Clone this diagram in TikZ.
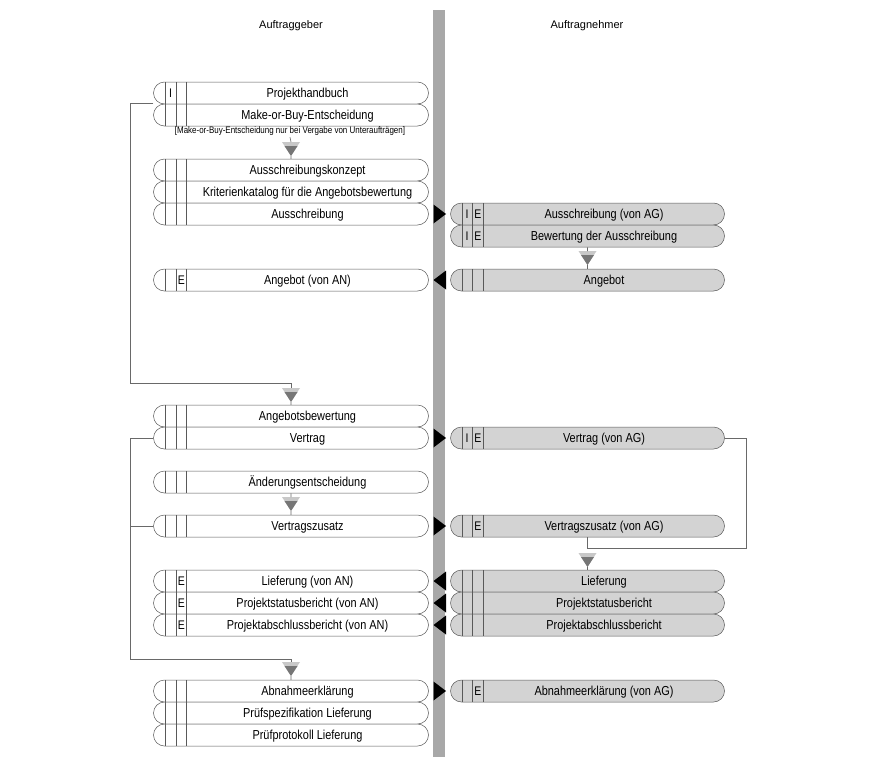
\documentclass[tikz,border=0pt]{standalone}
\usepackage{fontspec}
\setmainfont{Liberation Sans}
\newfontfamily\narrow{Liberation Sans}[FakeStretch=0.84]
\usetikzlibrary{arrows}

\definecolor{docgray}{RGB}{211,211,211}
\definecolor{bargray}{RGB}{168,168,168}
\definecolor{linegray}{RGB}{105,105,105}
\definecolor{funlight}{RGB}{200,200,200}
\definecolor{fundark}{RGB}{118,118,118}

% product: name, style, left end, y, tag I, tag E, text
\newcommand{\product}[7]{%
    \node[#2] (#1) at (#3+137.5,#4) {};
    \draw[divider] (#3+12,#4-11) -- ++(0,22) (#3+22.5,#4-11) -- ++(0,22) (#3+33,#4-11) -- ++(0,22);
    \node[tag] at (#3+17.2,#4+4.6) {#5};
    \node[tag] at (#3+27.8,#4+4.6) {#6};
    \node[doclabel] at (#3+154,#4+4.6) {#7};}

% funnel: name, x, top
\newcommand{\funnel}[3]{%
    \fill[funlight] (#2-9,#3) -- (#2+9,#3) -- (#2,#3+14) -- cycle;
    \fill[fundark] (#2-6.5,#3+4) -- (#2+6.5,#3+4) -- (#2,#3+14) -- cycle;
    \coordinate (#1-in) at (#2,#3);
    \coordinate (#1-out) at (#2,#3+14);}

\newcommand{\toAN}[1]{\fill (433.5,#1-9.5) -- (446,#1) -- (433.5,#1+9.5) -- cycle;}
\newcommand{\toAG}[1]{\fill (446,#1-9.5) -- (433.5,#1) -- (446,#1+9.5) -- cycle;}

\begin{document}
\begin{tikzpicture}[x=1pt,y=-1pt,
        agdoc/.style={draw=black!65, line width=0.5pt, fill=white, rounded corners=11pt,
                      minimum width=275pt, minimum height=22pt, inner sep=0pt},
        andoc/.style={agdoc, fill=docgray, minimum width=274pt},
        divider/.style={draw=black!65, line width=0.5pt},
        tag/.style={font=\narrow\fontsize{12.5}{13}\selectfont, inner sep=0pt, anchor=base},
        doclabel/.style={font=\narrow\fontsize{13}{14}\selectfont, inner sep=0pt, anchor=base},
        flow/.style={draw=linegray, line width=0.6pt}]
            \useasboundingbox (0,0) rectangle (878,768);

            \node[font=\fontsize{11}{13}\selectfont] (ag) at (291,26) {Auftraggeber};
            \node[font=\fontsize{11}{13}\selectfont] (an) at (587,26) {Auftragnehmer};

            \fill[bargray] (433,10) rectangle (445,757);

            % Auftraggeber
            \product{hb}{agdoc}{153.5}{93}{I}{}{Projekthandbuch}
            \product{mob}{agdoc}{153.5}{115}{}{}{Make-or-Buy-Entscheidung}
            \node[font=\narrow\fontsize{9.5}{10}\selectfont, inner sep=1pt] (note) at (290,131.5)
                {[Make-or-Buy-Entscheidung nur bei Vergabe von Unteraufträgen]};
            \product{konz}{agdoc}{153.5}{170}{}{}{Ausschreibungskonzept}
            \product{krit}{agdoc}{153.5}{192}{}{}{Kriterienkatalog für die Angebotsbewertung}
            \product{aus}{agdoc}{153.5}{214}{}{}{Ausschreibung}
            \product{ang}{agdoc}{153.5}{280}{}{E}{Angebot (von AN)}
            \product{bew}{agdoc}{153.5}{416}{}{}{Angebotsbewertung}
            \product{vtr}{agdoc}{153.5}{438}{}{}{Vertrag}
            \product{aend}{agdoc}{153.5}{482}{}{}{Änderungsentscheidung}
            \product{vzs}{agdoc}{153.5}{526}{}{}{Vertragszusatz}
            \product{lief}{agdoc}{153.5}{581}{}{E}{Lieferung (von AN)}
            \product{psb}{agdoc}{153.5}{603}{}{E}{Projektstatusbericht (von AN)}
            \product{pab}{agdoc}{153.5}{625}{}{E}{Projektabschlussbericht (von AN)}
            \product{abn}{agdoc}{153.5}{691}{}{}{Abnahmeerklärung}
            \product{pspez}{agdoc}{153.5}{713}{}{}{Prüfspezifikation Lieferung}
            \product{pprot}{agdoc}{153.5}{735}{}{}{Prüfprotokoll Lieferung}

            % Auftragnehmer
            \product{ausAG}{andoc}{450}{214}{I}{E}{Ausschreibung (von AG)}
            \product{bewAS}{andoc}{450}{236}{I}{E}{Bewertung der Ausschreibung}
            \product{angAN}{andoc}{450}{280}{}{}{Angebot}
            \product{vtrAG}{andoc}{450}{438}{I}{E}{Vertrag (von AG)}
            \product{vzsAG}{andoc}{450}{526}{}{E}{Vertragszusatz (von AG)}
            \product{liefAN}{andoc}{450}{581}{}{}{Lieferung}
            \product{psbAN}{andoc}{450}{603}{}{}{Projektstatusbericht}
            \product{pabAN}{andoc}{450}{625}{}{}{Projektabschlussbericht}
            \product{abnAG}{andoc}{450}{691}{}{E}{Abnahmeerklärung (von AG)}

            \funnel{f1}{291}{142}
            \funnel{f2}{291}{388}
            \funnel{f3}{291}{497}
            \funnel{f4}{291}{662}
            \funnel{f5}{587.5}{251}
            \funnel{f6}{587.5}{553}

            \toAN{214} \toAG{280} \toAN{438} \toAN{526}
            \toAG{581} \toAG{603} \toAG{625} \toAN{691}

            \draw[flow] (mob.north west) -- ++(-22.5,0) |- ([yshift=5pt]f2-in) -- (f2-in);
            \draw[flow] (vtr.west) -- ++(-22.5,0) |- ([yshift=3pt]f4-in) -- (f4-in);
            \draw[flow] (vzs.west) -- ++(-22.5,0);
            \draw[flow] (vtrAG.east) -- ++(22,0) |- ([yshift=-11pt]vzsAG.south) -- (vzsAG.south);
            \draw[flow] (note.south) -- (f1-in)
                        (f1-out) -- (konz.north)
                        (f2-out) -- (bew.north)
                        (aend.south) -- (f3-in)
                        (f3-out) -- (vzs.north)
                        (f4-out) -- (abn.north)
                        (bewAS.south) -- (f5-in)
                        (f5-out) -- (angAN.north)
                        (f6-out) -- (liefAN.north);
\end{tikzpicture}
\end{document}
